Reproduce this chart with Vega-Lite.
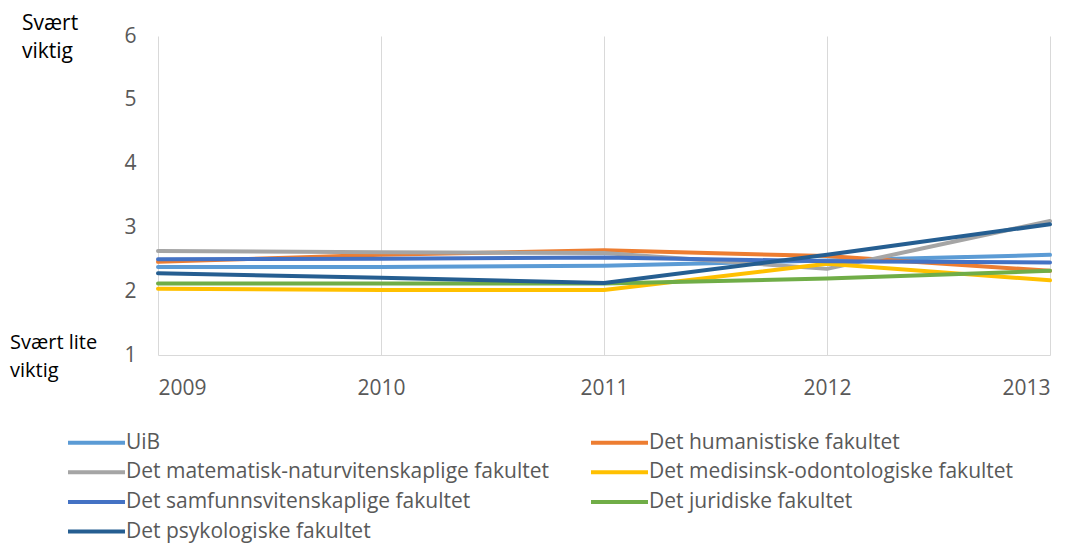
{
  "$schema": "https://vega.github.io/schema/vega-lite/v6.json",
  "width": 892,
  "height": 319,
  "autosize": {"type": "none"},
  "padding": {"left": 158, "top": 36, "right": 26, "bottom": 191},
  "background": "white",
  "config": {
    "view": {"stroke": null},
    "font": "Open Sans",
    "axis": {"labelFont": "Open Sans", "labelColor": "#595959", "labelFontSize": 20, "ticks": false, "title": null}
  },
  "datasets": {
    "series": [
      {"year": 2009, "series": "UiB", "value": 2.38},
      {"year": 2010, "series": "UiB", "value": 2.38},
      {"year": 2011, "series": "UiB", "value": 2.40},
      {"year": 2012, "series": "UiB", "value": 2.48},
      {"year": 2013, "series": "UiB", "value": 2.57},
      {"year": 2009, "series": "Det humanistiske fakultet", "value": 2.46},
      {"year": 2010, "series": "Det humanistiske fakultet", "value": 2.57},
      {"year": 2011, "series": "Det humanistiske fakultet", "value": 2.64},
      {"year": 2012, "series": "Det humanistiske fakultet", "value": 2.55},
      {"year": 2013, "series": "Det humanistiske fakultet", "value": 2.32},
      {"year": 2009, "series": "Det matematisk-naturvitenskaplige fakultet", "value": 2.63},
      {"year": 2010, "series": "Det matematisk-naturvitenskaplige fakultet", "value": 2.61},
      {"year": 2011, "series": "Det matematisk-naturvitenskaplige fakultet", "value": 2.60},
      {"year": 2012, "series": "Det matematisk-naturvitenskaplige fakultet", "value": 2.35},
      {"year": 2013, "series": "Det matematisk-naturvitenskaplige fakultet", "value": 3.10},
      {"year": 2009, "series": "Det medisinsk-odontologiske fakultet", "value": 2.04},
      {"year": 2010, "series": "Det medisinsk-odontologiske fakultet", "value": 2.02},
      {"year": 2011, "series": "Det medisinsk-odontologiske fakultet", "value": 2.02},
      {"year": 2012, "series": "Det medisinsk-odontologiske fakultet", "value": 2.43},
      {"year": 2013, "series": "Det medisinsk-odontologiske fakultet", "value": 2.17},
      {"year": 2009, "series": "Det samfunnsvitenskaplige fakultet", "value": 2.50},
      {"year": 2010, "series": "Det samfunnsvitenskaplige fakultet", "value": 2.51},
      {"year": 2011, "series": "Det samfunnsvitenskaplige fakultet", "value": 2.53},
      {"year": 2012, "series": "Det samfunnsvitenskaplige fakultet", "value": 2.47},
      {"year": 2013, "series": "Det samfunnsvitenskaplige fakultet", "value": 2.45},
      {"year": 2009, "series": "Det juridiske fakultet", "value": 2.12},
      {"year": 2010, "series": "Det juridiske fakultet", "value": 2.12},
      {"year": 2011, "series": "Det juridiske fakultet", "value": 2.12},
      {"year": 2012, "series": "Det juridiske fakultet", "value": 2.20},
      {"year": 2013, "series": "Det juridiske fakultet", "value": 2.32},
      {"year": 2009, "series": "Det psykologiske fakultet", "value": 2.28},
      {"year": 2010, "series": "Det psykologiske fakultet", "value": 2.21},
      {"year": 2011, "series": "Det psykologiske fakultet", "value": 2.13},
      {"year": 2012, "series": "Det psykologiske fakultet", "value": 2.57},
      {"year": 2013, "series": "Det psykologiske fakultet", "value": 3.05}
    ],
    "notes": [
      {"year": 2009, "value": 6, "label": ["Svært", "viktig"]},
      {"year": 2009, "value": 1, "label": ["Svært lite", "viktig"]}
    ]
  },
  "layer": [
    {
      "data": {"name": "series"},
      "mark": {"type": "line", "strokeWidth": 4, "strokeCap": "round", "strokeJoin": "round"},
      "encoding": {
        "x": {
          "field": "year", "type": "quantitative",
          "scale": {"domain": [2009, 2013], "nice": false, "zero": false},
          "axis": {"values": [2009, 2010, 2011, 2012, 2013], "format": "d", "grid": true, "gridColor": "#d9d9d9", "gridWidth": 1, "domainColor": "#d9d9d9", "domainWidth": 1, "labelPadding": 22, "labelFontSize": 21}
        },
        "y": {
          "field": "value", "type": "quantitative",
          "scale": {"domain": [1, 6], "nice": false, "zero": false},
          "axis": {"values": [1, 2, 3, 4, 5, 6], "format": "d", "grid": false, "domain": false, "labelPadding": 22, "labelFontSize": 21}
        },
        "color": {
          "field": "series", "type": "nominal",
          "scale": {
            "domain": ["UiB", "Det matematisk-naturvitenskaplige fakultet", "Det samfunnsvitenskaplige fakultet", "Det psykologiske fakultet", "Det humanistiske fakultet", "Det medisinsk-odontologiske fakultet", "Det juridiske fakultet"],
            "range": ["#5B9BD5", "#A5A5A5", "#4472C4", "#255E91", "#ED7D31", "#FFC000", "#70AD47"]
          },
          "legend": {
            "title": null, "orient": "none", "legendX": -73, "legendY": 395,
            "columns": 2, "columnPadding": 33, "rowPadding": 7.7,
            "symbolType": "M-3,0H3", "symbolSize": 361, "symbolStrokeWidth": 4, "symbolFillColor": "transparent",
            "labelFont": "Open Sans", "labelFontSize": 21, "labelColor": "#595959", "labelOffset": 18,
            "labelLimit": 600
          }
        }
      }
    },
    {
      "data": {"name": "notes"},
      "transform": [{"filter": "datum.value == 6"}],
      "mark": {"type": "text", "align": "left", "baseline": "middle", "dx": -136, "dy": -12, "fontSize": 21, "lineHeight": 28, "color": "#000000", "font": "Open Sans"},
      "encoding": {
        "x": {"field": "year", "type": "quantitative"},
        "y": {"field": "value", "type": "quantitative"},
        "text": {"field": "label"}
      }
    },
    {
      "data": {"name": "notes"},
      "transform": [{"filter": "datum.value == 1"}],
      "mark": {"type": "text", "align": "left", "baseline": "middle", "dx": -148, "dy": -12, "fontSize": 20, "lineHeight": 28, "color": "#000000", "font": "Open Sans"},
      "encoding": {
        "x": {"field": "year", "type": "quantitative"},
        "y": {"field": "value", "type": "quantitative"},
        "text": {"field": "label"}
      }
    }
  ]
}
